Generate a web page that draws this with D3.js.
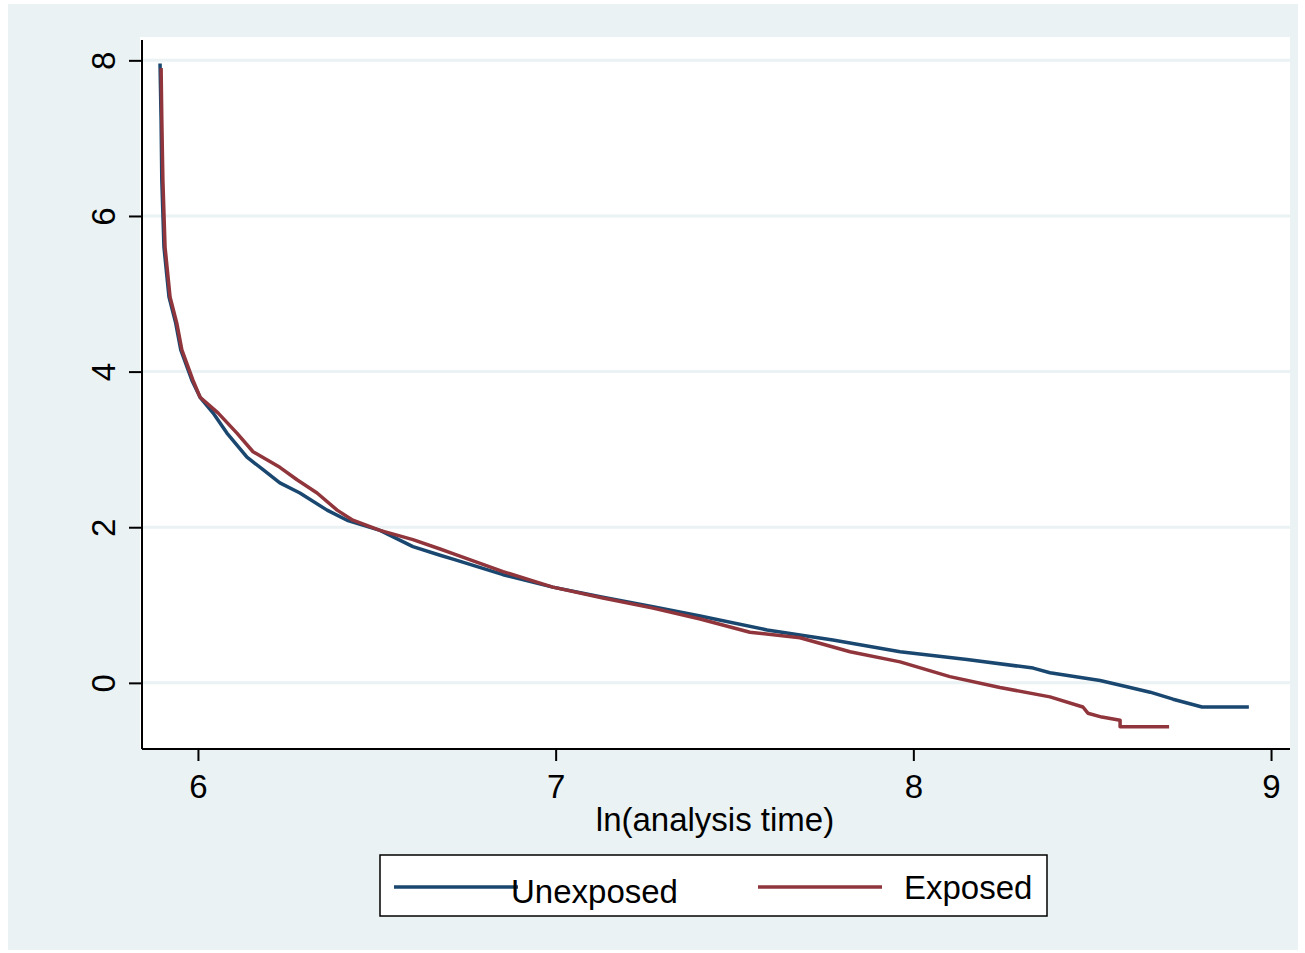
<!DOCTYPE html>
<html>
<head>
<meta charset="utf-8">
<script src="https://cdnjs.cloudflare.com/ajax/libs/d3/7.8.5/d3.min.js"></script>
<style>
	body { margin: 0; background: #ffffff; }
	text { font-family: "Liberation Sans", Arial, sans-serif; }
</style>
</head>
<body>
<div id="chart"></div>
<script>
//********************************* DATA *********************************
var xTicks = [6, 7, 8, 9];
var yTicks = [0, 2, 4, 6, 8];
var seriesNames = ["Unexposed", "Exposed"];
var seriesColors = ["#1a476f", "#90353b"];

// ln(analysis time)
var unexposedX = [5.894, 5.897, 5.899, 5.905, 5.919, 5.938, 5.952, 5.983, 6.006, 6.042, 6.081, 6.137, 6.182, 6.229, 6.285, 6.361, 6.417, 6.509, 6.601, 6.677, 6.713, 6.853, 6.992, 7.132, 7.272, 7.404, 7.591, 7.775, 7.963, 8.150, 8.335, 8.382, 8.522, 8.597, 8.662, 8.726, 8.807, 8.938];
var unexposedY = [7.96, 7.23, 6.46, 5.60, 4.96, 4.62, 4.28, 3.89, 3.67, 3.47, 3.21, 2.90, 2.74, 2.57, 2.44, 2.22, 2.09, 1.96, 1.75, 1.64, 1.59, 1.39, 1.23, 1.10, 0.98, 0.86, 0.68, 0.55, 0.40, 0.30, 0.19, 0.13, 0.03, -0.05, -0.12, -0.21, -0.31, -0.31];

var exposedX = [5.897, 5.899, 5.902, 5.908, 5.922, 5.941, 5.955, 5.986, 6.006, 6.056, 6.109, 6.154, 6.229, 6.277, 6.333, 6.389, 6.433, 6.509, 6.601, 6.677, 6.713, 6.853, 6.992, 7.132, 7.272, 7.404, 7.543, 7.683, 7.823, 7.963, 8.102, 8.242, 8.382, 8.474, 8.488, 8.527, 8.578, 8.578, 8.715];
var exposedY = [7.90, 7.23, 6.46, 5.60, 4.96, 4.62, 4.28, 3.89, 3.67, 3.47, 3.21, 2.97, 2.77, 2.61, 2.44, 2.22, 2.09, 1.96, 1.84, 1.72, 1.66, 1.43, 1.23, 1.09, 0.96, 0.82, 0.65, 0.58, 0.40, 0.27, 0.08, -0.06, -0.18, -0.31, -0.39, -0.44, -0.48, -0.565, -0.565];

//********************************* LAYOUT *********************************
var width = 1305, height = 953;
var plot = {left: 140, right: 1290, top: 37, bottom: 749};

var svg = d3.select("#chart")
			.append("svg")
			.attr("width", width)
			.attr("height", height);

//outer graph region
svg.append("rect")
	.attr("x", 8).attr("y", 4)
	.attr("width", 1290).attr("height", 946)
	.attr("fill", "#eaf2f3");

//plot region
svg.append("rect")
	.attr("x", plot.left).attr("y", plot.top)
	.attr("width", plot.right - plot.left).attr("height", plot.bottom - plot.top)
	.attr("fill", "#ffffff");

var x = d3.scaleLinear().domain([5.838, 9.053]).range([plot.left, plot.right]);
var y = d3.scaleLinear().domain([-0.85, 8.3]).range([plot.bottom, plot.top]);

//gridlines
svg.selectAll(".grid")
	.data(yTicks)
	.enter()
		.append("line")
		.attr("class", "grid")
		.attr("x1", plot.left + 2).attr("x2", plot.right)
		.attr("y1", function(d){ return y(d); })
		.attr("y2", function(d){ return y(d); })
		.attr("stroke", "#eaf2f3")
		.attr("stroke-width", 3);

//********************************* CURVES *********************************
var line = d3.line()
			.x(function(d){ return x(d[0]); })
			.y(function(d){ return y(d[1]); });

var unexposed = d3.zip(unexposedX, unexposedY);
var exposed = d3.zip(exposedX, exposedY);

svg.append("path")
	.datum(unexposed)
	.attr("d", line)
	.attr("fill", "none")
	.attr("stroke", seriesColors[0])
	.attr("stroke-width", 3.5)
	.attr("stroke-linejoin", "round");

svg.append("path")
	.datum(exposed)
	.attr("d", line)
	.attr("fill", "none")
	.attr("stroke", seriesColors[1])
	.attr("stroke-width", 3.5)
	.attr("stroke-linejoin", "round");

//********************************* AXES *********************************
var xAxis = svg.append("g")
	.attr("transform", "translate(0," + plot.bottom + ")")
	.call(d3.axisBottom(x).tickValues(xTicks).tickSize(12).tickPadding(14).tickFormat(d3.format("d")));

var yAxis = svg.append("g")
	.attr("transform", "translate(" + (plot.left + 2) + ",0)")
	.call(d3.axisLeft(y).tickValues(yTicks).tickSize(13).tickFormat(d3.format("d")));

xAxis.select(".domain").attr("d", "M" + (plot.left + 2) + ",0H" + plot.right);
yAxis.select(".domain").attr("d", "M0," + (plot.top + 3) + "V" + plot.bottom);

svg.selectAll(".domain, .tick line")
	.attr("stroke", "#000000")
	.attr("stroke-width", 2);

xAxis.selectAll(".tick text")
	.attr("font-size", 33)
	.attr("fill", "#000000")
	.attr("font-family", "Liberation Sans, Arial, sans-serif");

//rotated y labels, like Stata
yAxis.selectAll(".tick text")
	.attr("font-size", 33)
	.attr("fill", "#000000")
	.attr("font-family", "Liberation Sans, Arial, sans-serif")
	.attr("x", null).attr("dy", null)
	.attr("text-anchor", "middle")
	.attr("dominant-baseline", "central")
	.attr("transform", "translate(-39,0) rotate(-90)");

svg.append("text")
	.attr("x", (plot.left + plot.right) / 2)
	.attr("y", 831)
	.attr("text-anchor", "middle")
	.attr("font-size", 33)
	.text("ln(analysis time)");

//********************************* LEGEND *********************************
svg.append("rect")
	.attr("x", 380).attr("y", 855)
	.attr("width", 667).attr("height", 61)
	.attr("fill", "#ffffff")
	.attr("stroke", "#000000")
	.attr("stroke-width", 1.5);

var legendItems = [
	{x1: 394, x2: 518, tx: 511, ty: 903},
	{x1: 758, x2: 882, tx: 904, ty: 899}
];

for(var i = 0; i < seriesNames.length; ++i){
	svg.append("line")
		.attr("x1", legendItems[i].x1).attr("x2", legendItems[i].x2)
		.attr("y1", 887).attr("y2", 887)
		.attr("stroke", seriesColors[i])
		.attr("stroke-width", 3.5);

	svg.append("text")
		.attr("x", legendItems[i].tx)
		.attr("y", legendItems[i].ty)
		.attr("font-size", 33)
		.text(seriesNames[i]);
}
</script>
</body>
</html>
